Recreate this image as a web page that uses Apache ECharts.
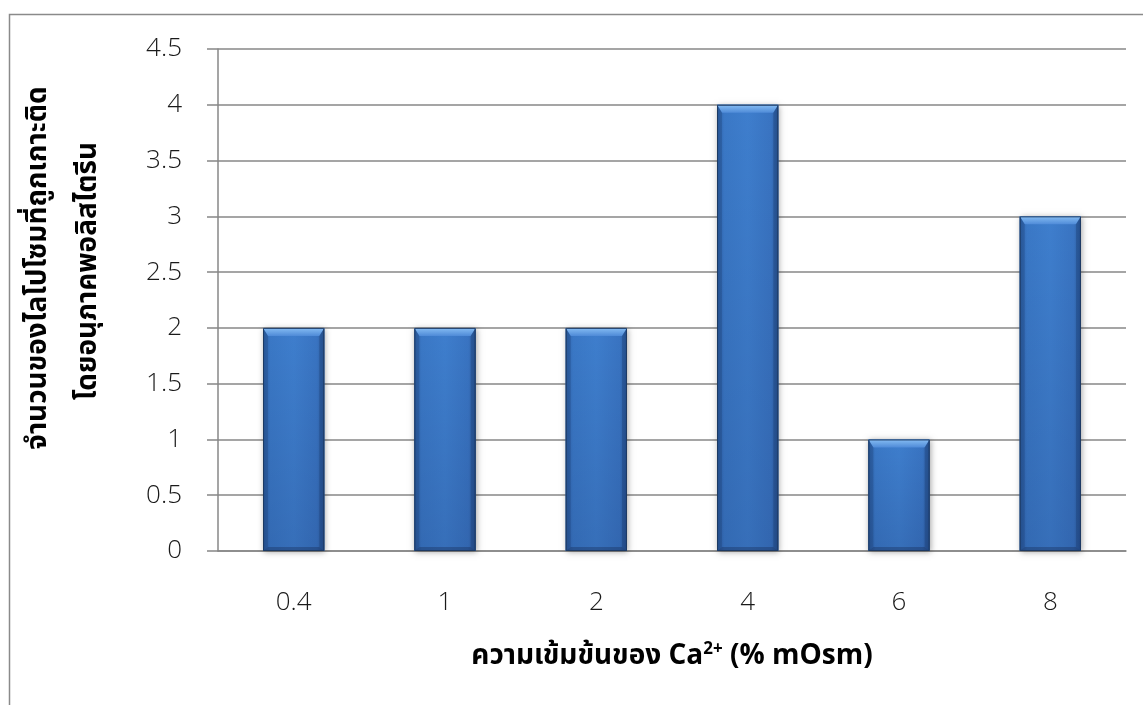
<!DOCTYPE html>
<html>
<head>
<meta charset="utf-8">
<script src="https://cdn.jsdelivr.net/npm/echarts@6/dist/echarts.min.js"></script>
<style>
  html, body { margin: 0; padding: 0; background: #fff; }
  #chart { width: 1143px; height: 705px; }
</style>
</head>
<body>
<div id="chart"></div>
<script>
// Ca2+ concentration (% mOsm) on the category axis
const categories = ['0.4', '1', '2', '4', '6', '8'];
// Liposomes attached by polystyrene particles
const counts = [2, 2, 2, 4, 1, 3];
const yTicks = { min: 0, max: 4.5, interval: 0.5 };

const yTitleLines = ['จำนวนของไลโปโซมที่ถูกเกาะติด', 'โดยอนุภาคพอลิสไตรีน'];
const xTitleParts = ['ความเข้มข้นของ Ca', '2+', ' (% mOsm)'];

const tickFont = '"Open Sans", "Noto Sans", "DejaVu Sans", sans-serif';
const thaiFont = '"Noto Sans Thai", "Noto Sans", "Tahoma", "DejaVu Sans", sans-serif';

const chart = echarts.init(document.getElementById('chart'), null, { renderer: 'canvas' });

// Bevelled column drawn from the category/value scales
function renderBar(params, api) {
  const idx = api.value(0);
  const top = api.coord([idx, api.value(1)]);
  const base = api.coord([idx, 0]);
  const bandW = api.size([1, 0])[0];
  const w = bandW * 0.405;
  const x0 = top[0] - w / 2, x1 = x0 + w;
  const y0 = top[1], y1 = base[1];
  const t = 8, s = 5;
  return {
    type: 'group',
    children: [
      { type: 'rect', shape: { x: x0, y: y0, width: w, height: y1 - y0 },
        style: { fill: '#3a74bf', shadowBlur: 6, shadowColor: 'rgba(0,0,0,0.35)', shadowOffsetX: 1, shadowOffsetY: 1 } },
      { type: 'rect', shape: { x: x0, y: y0, width: w, height: y1 - y0 },
        style: { fill: new echarts.graphic.LinearGradient(0, 0, 1, 0, [
          { offset: 0, color: '#2f62a8' }, { offset: 0.12, color: '#3a78c6' },
          { offset: 0.5, color: '#3e7ecd' }, { offset: 0.88, color: '#3974c2' },
          { offset: 1, color: '#2d5c9d' }]) } },
      { type: 'rect', shape: { x: x0, y: y0, width: w, height: y1 - y0 },
        style: { fill: new echarts.graphic.LinearGradient(0, 0, 0, 1, [
          { offset: 0, color: 'rgba(0,0,40,0)' }, { offset: 1, color: 'rgba(0,0,40,0.12)' }]) } },
      { type: 'polygon', shape: { points: [[x0, y0], [x1, y0], [x1 - s, y0 + t], [x0 + s, y0 + t]] },
        style: { fill: new echarts.graphic.LinearGradient(0, 0, 0, 1, [
          { offset: 0, color: '#86bdf3' }, { offset: 1, color: '#4f8bd8' }]) } },
      { type: 'polygon', shape: { points: [[x0, y0], [x0 + s, y0 + t], [x0 + s, y1 - 4], [x0, y1]] },
        style: { fill: 'rgba(20,50,100,0.25)' } },
      { type: 'polygon', shape: { points: [[x1, y0], [x1 - s, y0 + t], [x1 - s, y1 - 4], [x1, y1]] },
        style: { fill: 'rgba(20,50,100,0.3)' } },
      { type: 'polygon', shape: { points: [[x0, y1], [x1, y1], [x1 - s, y1 - 4], [x0 + s, y1 - 4]] },
        style: { fill: 'rgba(20,40,80,0.35)' } },
      { type: 'rect', shape: { x: x0 + 0.5, y: y0 + 0.5, width: w - 1, height: y1 - y0 - 1 },
        style: { fill: 'none', stroke: '#1d3a63', lineWidth: 1 } }
    ]
  };
}

const option = {
  backgroundColor: '#ffffff',
  animation: false,
  grid: { left: 218, right: 17, top: 49, bottom: 154, containLabel: false },
  xAxis: {
    type: 'category',
    data: categories,
    axisLine: { show: true, lineStyle: { color: '#878787', width: 1.5 } },
    axisTick: { show: false },
    axisLabel: { margin: 39, fontSize: 26, fontFamily: tickFont, fontWeight: 300, color: '#1a1a1a' }
  },
  yAxis: {
    type: 'value',
    min: yTicks.min, max: yTicks.max, interval: yTicks.interval,
    axisLine: { show: true, lineStyle: { color: '#878787', width: 1.5 } },
    axisTick: { show: true, length: 11, lineStyle: { color: '#878787', width: 1.5 } },
    splitLine: { show: true, lineStyle: { color: '#878787', width: 1.5 } },
    axisLabel: { margin: 36, fontSize: 26, fontFamily: tickFont, fontWeight: 300, color: '#1a1a1a' }
  },
  series: [{
    type: 'custom',
    renderItem: renderBar,
    encode: { x: 0, y: 1 },
    data: counts.map((v, i) => [i, v]),
    z: 5
  }],
  graphic: [
    { type: 'rect', left: 7, top: 12, shape: { width: 1200, height: 760 },
      style: { fill: 'none', stroke: '#8a8a8a', lineWidth: 1.5 }, silent: true },
    { type: 'text', x: 40, y: 268, rotation: Math.PI / 2,
      style: { text: yTitleLines[0], font: 'bold 28px ' + thaiFont, fill: '#000', align: 'center', verticalAlign: 'middle' } },
    { type: 'text', x: 90, y: 271, rotation: Math.PI / 2,
      style: { text: yTitleLines[1], font: 'bold 28px ' + thaiFont, fill: '#000', align: 'center', verticalAlign: 'middle' } },
    { type: 'text', x: 672, y: 658,
      style: {
        text: '{a|' + xTitleParts[0] + '}{s|' + xTitleParts[1] + '}{a|' + xTitleParts[2] + '}',
        align: 'center', verticalAlign: 'middle',
        rich: {
          a: { fontSize: 28, fontWeight: 'bold', fontFamily: thaiFont, color: '#000' },
          s: { fontSize: 17, fontWeight: 'bold', fontFamily: thaiFont, color: '#000', verticalAlign: 'top', padding: [0, 0, 14, 0] }
        }
      } }
  ]
};

chart.setOption(option);
</script>
</body>
</html>
